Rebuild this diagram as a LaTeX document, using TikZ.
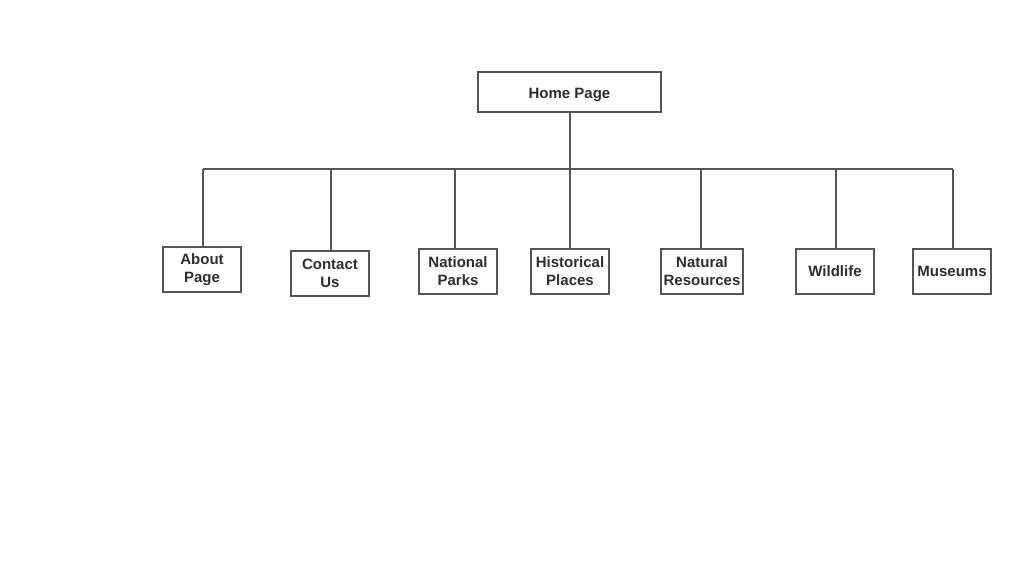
\documentclass[tikz,border=0pt]{standalone}
\usepackage{fontspec}
\setmainfont{Liberation Sans}
\begin{document}
\begin{tikzpicture}[x=1pt,y=-1pt,
  box/.style={draw=linegray, line width=2.8pt, fill=white, inner sep=0pt,
    font=\fontsize{15}{18}\selectfont\bfseries, text=textgray, align=center},
  conn/.style={draw=linegray, line width=2.8pt}]
\definecolor{linegray}{HTML}{555555}
\definecolor{textgray}{HTML}{2E2E2E}
\useasboundingbox (0,0) rectangle (1024,566);
\node[box, minimum width=183pt, minimum height=40pt] (home) at (569.5,92) {\raisebox{-2pt}[11pt][3pt]{Home Page}};
\node[box, minimum width=78pt, minimum height=45pt] (about) at (202,269.5) {About\\Page};
\node[box, minimum width=78pt, minimum height=45pt] (contact) at (330,273.5) {Contact\\Us};
\node[box, minimum width=78pt, minimum height=45pt] (natp) at (458,271.5) {National\\Parks};
\node[box, minimum width=78pt, minimum height=45pt] (hist) at (570,271.5) {Historical\\Places};
\node[box, minimum width=82pt, minimum height=45pt] (natr) at (702,271.5) {Natural\\Resources};
\node[box, minimum width=78pt, minimum height=45pt] (wild) at (835,271.5) {Wildlife};
\node[box, minimum width=78pt, minimum height=45pt] (mus) at (952,271.5) {Museums};
\coordinate (bL) at (203,169);
\coordinate (bR) at (953,169);
\path[conn] (bL) -- (bR);
\path[conn] (hist.north |- home.south) -- (hist.north);
\path[conn] ([xshift=1pt]about.north) -- ([xshift=1pt]about.north |- bL);
\path[conn] ([xshift=1pt]contact.north) -- ([xshift=1pt]contact.north |- bL);
\path[conn] ([xshift=-3pt]natp.north) -- ([xshift=-3pt]natp.north |- bL);
\path[conn] ([xshift=-1pt]natr.north) -- ([xshift=-1pt]natr.north |- bL);
\path[conn] ([xshift=1pt]wild.north) -- ([xshift=1pt]wild.north |- bL);
\path[conn] ([xshift=1pt]mus.north) -- ([xshift=1pt]mus.north |- bL);
\end{tikzpicture}
\end{document}
